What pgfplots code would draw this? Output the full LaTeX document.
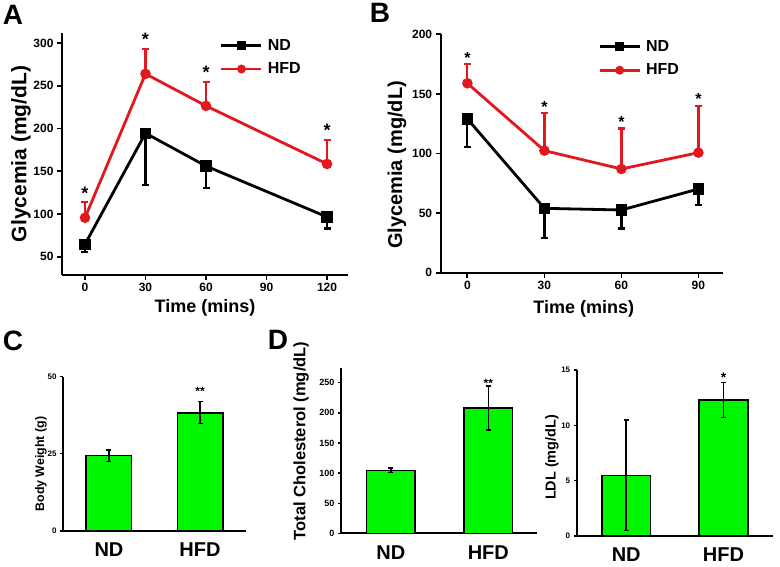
\documentclass[border=0pt]{standalone}
\usepackage{pgfplots}
\pgfplotsset{compat=1.18}
\usepackage{fontspec}
\setmainfont{Liberation Sans}
\definecolor{myred}{RGB}{225,25,30}
\definecolor{mygreen}{RGB}{0,245,0}

\pgfplotsset{
  linepanel/.style={
    scale only axis, clip=false,
    axis lines=left, axis line style={-, line width=2.2pt},
    tick align=outside, major tick length=5pt,
    every tick/.style={black, line width=1.8pt},
    tick label style={font=\fontsize{12}{12}\selectfont\bfseries},
    /pgf/number format/assume math mode=true,
    legend cell align=left,
    legend image code/.code={\draw[mark repeat=2,mark phase=2,##1,mark size=3pt] plot coordinates {(0pt,0pt)(20pt,0pt)(40pt,0pt)};},
    legend style={draw=none, fill=none, inner sep=0pt, nodes={inner sep=0pt},
      column sep=5pt, row sep=11pt, anchor=north west,
      font=\fontsize{16}{16}\selectfont\bfseries},
  },
  ndline/.style={black, line width=2.8pt, mark=square*, mark size=4.2pt,
    error bars/.cd, y dir=minus, y explicit,
    error bar style={line width=2.2pt, black},
    error mark options={rotate=90, mark size=3.5pt, line width=2.2pt, black}},
  hfdline/.style={myred, line width=2.8pt, mark=*, mark size=3.8pt,
    error bars/.cd, y dir=plus, y explicit,
    error bar style={line width=2.2pt, myred},
    error mark options={rotate=90, mark size=3.5pt, line width=2.2pt, myred}},
  barpanel/.style={
    scale only axis, clip=false,
    axis lines=left, axis line style={-, line width=1.8pt},
    ybar, bar width=0.5, ymin=0, xmin=-0.51, xmax=1.5,
    xtick={0,1}, xticklabels={ND,HFD},
    x tick style={draw=none},
    tick align=outside, major tick length=3pt,
    y tick style={black, line width=1.3pt},
    xticklabel style={font=\fontsize{20}{20}\selectfont\bfseries, inner sep=0pt, anchor=north, yshift=-9pt},
    yticklabel style={font=\fontsize{8}{8}\selectfont\bfseries},
    /pgf/number format/assume math mode=true,
  },
  bars/.style={fill=mygreen, draw=black, line width=1.5pt,
    error bars/.cd, y dir=both, y explicit,
    error bar style={line width=1.5pt, black},
    error mark options={rotate=90, mark size=2.5pt, line width=1.5pt, black}},
}

\begin{document}
\begin{tikzpicture}
\useasboundingbox (0,0) rectangle (780pt,567pt);

% Panel letters
\node[font=\fontsize{28}{28}\selectfont\bfseries] at (13pt,552pt) {A};
\node[font=\fontsize{28}{28}\selectfont\bfseries] at (380pt,554pt) {B};
\node[font=\fontsize{28}{28}\selectfont\bfseries] at (13pt,226pt) {C};
\node[font=\fontsize{28}{28}\selectfont\bfseries] at (278pt,227pt) {D};

% ---------------- Panel A ----------------
\begin{axis}[linepanel,
  at={(62pt,292pt)}, anchor=south west, width=286pt, height=242pt,
  xmin=-11.4, xmax=130.4, ymin=28.5, ymax=311.8,
  xtick={0,30,60,90,120}, ytick={50,100,150,200,250,300},
  xlabel={Time (mins)}, ylabel={Glycemia (mg/dL)},
  xlabel style={font=\fontsize{18}{18}\selectfont\bfseries, at={(axis description cs:0.5,-0.135)}, anchor=center},
  ylabel style={font=\fontsize{21}{21}\selectfont\bfseries, at={(axis description cs:-0.143,0.5)}, anchor=center},
  legend style={at={(0.552,0.975)}},
]
\addplot[ndline] table[x=t, y=m, y error minus=e] {
t m e
0 64.5 8.9
30 194.5 60.5
60 156 25.5
120 96.5 13.5
};
\addlegendentry{ND}
\addplot[hfdline] table[x=t, y=m, y error plus=e] {
t m e
0 95.5 18
30 264 29.3
60 226.5 28.3
120 158.5 28.3
};
\addlegendentry{HFD}
\foreach \xx/\yy in {0/113.5, 30/293.3, 60/254.8, 120/186.8}{
  \edef\tmp{\noexpand\node[font=\noexpand\fontsize{18}{18}\noexpand\selectfont\noexpand\bfseries, anchor=base, yshift=3pt] at (axis cs:\xx,\yy) {*};}
  \tmp
}
\end{axis}

% ---------------- Panel B ----------------
\begin{axis}[linepanel,
  at={(440.7pt,294.3pt)}, anchor=south west, width=282.6pt, height=238.4pt,
  xmin=-10.4, xmax=99.7, ymin=0, ymax=200,
  xtick={0,30,60,90}, ytick={0,50,100,150,200},
  xlabel={Time (mins)}, ylabel={Glycemia (mg/dL)},
  xlabel style={font=\fontsize{18}{18}\selectfont\bfseries, at={(axis description cs:0.506,-0.152)}, anchor=center},
  ylabel style={font=\fontsize{20}{20}\selectfont\bfseries, at={(axis description cs:-0.155,0.452)}, anchor=center},
  legend style={at={(0.557,0.975)}},
]
\addplot[ndline] table[x=t, y=m, y error minus=e] {
t m e
0 129 23.3
30 54 25.2
60 52.6 15.6
90 70.2 13.4
};
\addlegendentry{ND}
\addplot[hfdline] table[x=t, y=m, y error plus=e] {
t m e
0 158.9 15.9
30 102.4 31.3
60 87 34
90 100.7 39.2
};
\addlegendentry{HFD}
\foreach \xx/\yy in {0/174.8, 30/133.7, 60/121, 90/139.9}{
  \edef\tmp{\noexpand\node[font=\noexpand\fontsize{16}{16}\noexpand\selectfont\noexpand\bfseries, anchor=base, yshift=1pt] at (axis cs:\xx,\yy) {*};}
  \tmp
}
\end{axis}

% ---------------- Panel C ----------------
\begin{axis}[barpanel,
  at={(63pt,36pt)}, anchor=south west, width=183pt, height=154.3pt,
  xmin=-0.505, xmax=1.505, ymax=50, ytick={0,25,50},
  ylabel={Body Weight (g)},
  ylabel style={font=\fontsize{12.4}{12.4}\selectfont\bfseries, at={(axis description cs:-0.12,0.434)}, anchor=center},
]
\addplot[bars] table[x=x, y=y, y error plus=ep, y error minus=em] {
x y ep em
0 24.5 1.7 1.9
1 38.3 3.6 3.4
};
\node[font=\fontsize{12}{12}\selectfont\bfseries, anchor=base, yshift=6.5pt] at (axis cs:1,41.9) {**};
\end{axis}

% ---------------- Panel D left ----------------
\begin{axis}[barpanel,
  at={(341pt,33.7pt)}, anchor=south west, width=195.7pt, height=165.6pt,
  xmin=-0.511, xmax=1.496, ymax=275, ytick={0,50,100,150,200,250},
  yticklabel style={font=\fontsize{9}{9}\selectfont\bfseries},
  ylabel={Total Cholesterol (mg/dL)},
  ylabel style={font=\fontsize{16.5}{16.5}\selectfont\bfseries, at={(axis description cs:-0.204,0.557)}, anchor=center},
]
\addplot[bars] table[x=x, y=y, y error plus=ep, y error minus=em] {
x y ep em
0 104.5 3.9 3.8
1 208 36.5 36.5
};
\node[font=\fontsize{12}{12}\selectfont\bfseries, anchor=base, yshift=-1pt] at (axis cs:1,244.5) {**};
\end{axis}

% ---------------- Panel D right ----------------
\begin{axis}[barpanel,
  at={(576.7pt,31pt)}, anchor=south west, width=196.3pt, height=166pt,
  xmin=-0.509, xmax=1.509, ymax=15, ytick={0,5,10,15},
  ylabel={LDL (mg/dL)},
  ylabel style={font=\fontsize{14.4}{14.4}\selectfont\bfseries, at={(axis description cs:-0.126,0.473)}, anchor=center},
]
\addplot[bars] table[x=x, y=y, y error plus=ep, y error minus=em] {
x y ep em
0 5.48 5 5
1 12.29 1.57 1.57
};
\node[font=\fontsize{14}{14}\selectfont\bfseries, anchor=base, yshift=0.5pt] at (axis cs:1,13.86) {*};
\end{axis}
\end{tikzpicture}
\end{document}
